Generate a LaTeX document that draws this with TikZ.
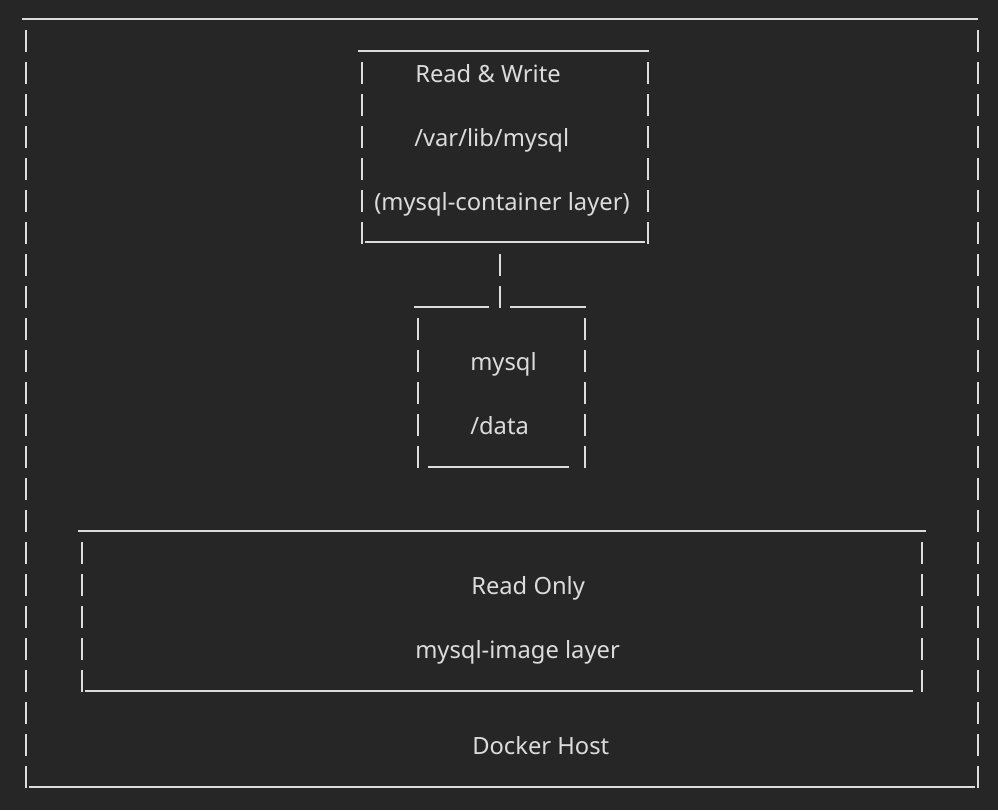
\documentclass[tikz,border=0pt]{standalone}
\usepackage{fontspec}
\setmainfont{Noto Sans}
\definecolor{bgdark}{HTML}{262626}
\definecolor{asciiline}{HTML}{DCDCDC}
\tikzset{
  bar/.style={draw=asciiline, line width=1.5pt},
  pipe/.style={bar, dash pattern=on 16.5pt off 7.5pt},
  label/.style={text=asciiline, inner sep=0pt, anchor=base west, font=\fontsize{17.8}{21}\selectfont}
}
\begin{document}
\begin{tikzpicture}[x=0.75pt,y=0.75pt,yscale=-1,xscale=1]
%set diagram to the full 998 x 810 frame
\fill[bgdark] (0,0) rectangle (998,810);
\useasboundingbox (0,0) rectangle (998,810);

%Shape: Docker Host frame
\draw[bar] (22,19) -- (978,19);
\draw[pipe] (26,30) -- (26,788);
\draw[pipe] (978,30) -- (978,788);
\draw[bar] (29,787) -- (975,787);

%Shape: container layer box
\draw[bar] (358,51) -- (649,51);
\draw[pipe] (362,62) -- (362,245);
\draw[pipe] (648,62) -- (648,245);
\draw[bar] (365,242) -- (645,242);

%Shape: link down to the volume
\draw[pipe] (500,254) -- (500,309);
\draw[bar] (414,307) -- (489,307);
\draw[bar] (510,307) -- (586,307);

%Shape: volume box
\draw[pipe] (418,318) -- (418,469);
\draw[pipe] (585,318) -- (585,469);
\draw[bar] (428,467) -- (569,467);

%Shape: image layer box
\draw[bar] (78,531) -- (926,531);
\draw[pipe] (82,542) -- (82,693);
\draw[pipe] (922,542) -- (922,693);
\draw[bar] (85,691) -- (913,691);

% Text Node
\node[label] (rw) at (415,82) {Read \& Write};
% Text Node
\node[label] (varlib) at (414,146) {/var/lib/mysql};
% Text Node
\node[label] (clayer) at (374,210) {(mysql-container layer)};
% Text Node
\node[label] (vol) at (470,370) {mysql};
% Text Node
\node[label] (data) at (470,434) {/data};
% Text Node
\node[label] (ro) at (471,594) {Read Only};
% Text Node
\node[label] (ilayer) at (415,658) {mysql-image layer};
% Text Node
\node[label] (host) at (472,754) {Docker Host};

\end{tikzpicture}
\end{document}
